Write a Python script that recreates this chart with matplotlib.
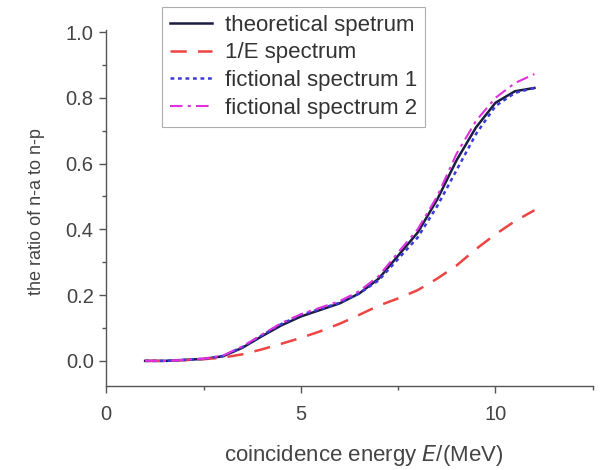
import matplotlib
matplotlib.use("Agg")
import matplotlib.pyplot as plt
import numpy as np

plt.rcParams['font.family'] = ['Liberation Sans', 'DejaVu Sans']

# coincidence energy grid (MeV)
energy = [1.0, 1.5, 2.0, 2.5, 3.0, 3.5, 4.0, 4.5, 5.0, 5.5, 6.0, 6.5,
          7.0, 7.5, 8.0, 8.5, 9.0, 9.5, 10.0, 10.5, 11.0]

theoretical = [0.0, 0.0, 0.003, 0.006, 0.014, 0.04, 0.075, 0.108, 0.135, 0.155,
               0.175, 0.205, 0.25, 0.32, 0.39, 0.49, 0.61, 0.71, 0.785, 0.82, 0.83]
inv_e = [0.0, 0.0, 0.002, 0.005, 0.01, 0.02, 0.035, 0.052, 0.07, 0.09,
         0.113, 0.14, 0.168, 0.19, 0.215, 0.25, 0.29, 0.34, 0.385, 0.425, 0.458]
fictional1 = [0.0, 0.0, 0.003, 0.006, 0.015, 0.042, 0.078, 0.112, 0.14, 0.158,
              0.177, 0.205, 0.245, 0.31, 0.375, 0.47, 0.58, 0.69, 0.775, 0.815, 0.83]
fictional2 = [0.0, 0.0, 0.003, 0.007, 0.016, 0.044, 0.08, 0.115, 0.142, 0.162,
              0.182, 0.212, 0.258, 0.33, 0.4, 0.5, 0.63, 0.73, 0.8, 0.845, 0.872]

labels = ["theoretical spetrum", "1/E spectrum", "fictional spectrum 1",
          "fictional spectrum 2"]

fig = plt.figure(figsize=(6.0, 4.7), dpi=100)
ax = fig.add_axes([0.177, 0.179, 0.811, 0.757])

ax.plot(energy, theoretical, color="#1c1c40", lw=1.8, ls="-", label=labels[0])
ax.plot(energy, inv_e, color="#ee4444", lw=1.8, ls=(0, (6.5, 4.5)), label=labels[1])
ax.plot(energy, fictional1, color="#3a3ad8", lw=1.8, ls=(0, (1.5, 1.5)), label=labels[2])
ax.plot(energy, fictional2, color="#e030e0", lw=1.5, ls=(0, (6, 2.5, 1.5, 2.5)), label=labels[3])

ax.set_xlim(0, 12.5)
ax.set_ylim(-0.076, 1.006)
ax.set_xticks([0, 5, 10])
ax.set_xticks([2.5, 7.5, 12.5], minor=True)
ax.set_yticks([0.0, 0.2, 0.4, 0.6, 0.8, 1.0])
ax.set_yticks([0.1, 0.3, 0.5, 0.7, 0.9], minor=True)
ax.yaxis.set_major_formatter(matplotlib.ticker.FormatStrFormatter('%.1f'))

for side in ("top", "right"):
    ax.spines[side].set_visible(False)
for side in ("left", "bottom"):
    ax.spines[side].set_color("#555555")
    ax.spines[side].set_linewidth(1.0)

ax.tick_params(which="major", direction="out", length=5, width=1.0,
               color="#555555", labelsize=14.5, labelcolor="#444444", pad=4)
ax.tick_params(axis="x", which="major", pad=9)
ax.tick_params(which="minor", direction="out", length=3, width=1.0, color="#555555")

ax.set_xlabel("coincidence energy $\\mathit{E}$/(MeV)", fontsize=16,
              color="#444444", labelpad=14)
ax.xaxis.set_label_coords(0.53, -0.16)
ax.set_ylabel("the ratio of n-a to n-p", fontsize=13, color="#444444", labelpad=10)
ax.yaxis.set_label_coords(-0.125, 0.49)

leg = ax.legend(loc="upper left", bbox_to_anchor=(0.27, 0.985),
                bbox_transform=fig.transFigure, borderaxespad=0, fontsize=16,
                frameon=True, fancybox=False, edgecolor="#999999",
                handlelength=1.9, handletextpad=0.6, borderpad=0.35,
                labelspacing=0.3)
leg.get_frame().set_linewidth(0.8)
for t in leg.get_texts():
    t.set_color("#333333")

fig.savefig("out.png", dpi=100)
